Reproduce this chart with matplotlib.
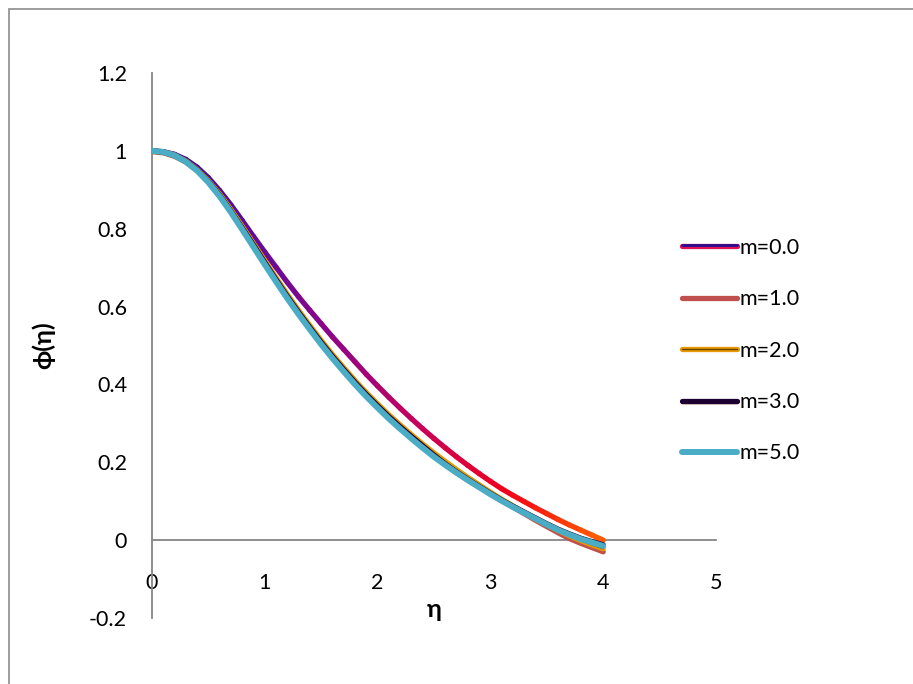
import numpy as np
import matplotlib
matplotlib.use("Agg")
import matplotlib.pyplot as plt
from matplotlib.collections import LineCollection
from matplotlib.colors import LinearSegmentedColormap
from matplotlib.lines import Line2D
from matplotlib.patches import Rectangle
import matplotlib.patheffects as pe

plt.rcParams['font.family'] = ['Lato', 'DejaVu Sans']

eta = [0.0, 0.1, 0.2, 0.3, 0.4, 0.5, 0.6, 0.7, 0.8, 0.9, 1.0,
       1.1, 1.2, 1.3, 1.4, 1.5, 1.6, 1.7, 1.8, 1.9, 2.0,
       2.1, 2.2, 2.3, 2.4, 2.5, 2.6, 2.7, 2.8, 2.9, 3.0,
       3.1, 3.2, 3.3, 3.4, 3.5, 3.6, 3.7, 3.8, 3.9, 4.0]
phi_m0 = [1.000, 0.998, 0.991, 0.978, 0.958, 0.931, 0.898, 0.861, 0.821, 0.780, 0.740,
          0.701, 0.662, 0.625, 0.590, 0.556, 0.522, 0.490, 0.458, 0.426, 0.396,
          0.367, 0.339, 0.312, 0.286, 0.261, 0.237, 0.214, 0.192, 0.171, 0.151,
          0.132, 0.115, 0.099, 0.083, 0.068, 0.053, 0.039, 0.026, 0.013, 0.000]
phi_m1 = [1.000, 0.997, 0.989, 0.974, 0.952, 0.923, 0.888, 0.848, 0.805, 0.761, 0.716,
          0.672, 0.629, 0.588, 0.549, 0.511, 0.475, 0.441, 0.408, 0.377, 0.348,
          0.320, 0.294, 0.269, 0.245, 0.222, 0.201, 0.180, 0.160, 0.141, 0.122,
          0.103, 0.085, 0.068, 0.051, 0.035, 0.019, 0.004, -0.008, -0.019, -0.030]
phi_m2 = [1.000, 0.997, 0.989, 0.974, 0.952, 0.923, 0.889, 0.849, 0.806, 0.762, 0.718,
          0.674, 0.631, 0.590, 0.551, 0.513, 0.477, 0.443, 0.410, 0.379, 0.350,
          0.322, 0.296, 0.271, 0.247, 0.224, 0.202, 0.181, 0.161, 0.142, 0.123,
          0.105, 0.088, 0.071, 0.055, 0.040, 0.025, 0.011, -0.001, -0.012, -0.022]
phi_m3 = [1.000, 0.997, 0.988, 0.973, 0.951, 0.921, 0.886, 0.845, 0.802, 0.758, 0.713,
          0.669, 0.626, 0.585, 0.546, 0.508, 0.472, 0.438, 0.405, 0.374, 0.345,
          0.317, 0.291, 0.266, 0.242, 0.218, 0.195, 0.175, 0.156, 0.138, 0.120,
          0.103, 0.087, 0.072, 0.057, 0.042, 0.028, 0.016, 0.005, -0.004, -0.012]
phi_m5 = [1.000, 0.997, 0.988, 0.972, 0.949, 0.919, 0.883, 0.842, 0.798, 0.753, 0.708,
          0.664, 0.621, 0.580, 0.541, 0.503, 0.467, 0.433, 0.400, 0.369, 0.340,
          0.312, 0.286, 0.261, 0.237, 0.214, 0.193, 0.173, 0.154, 0.136, 0.118,
          0.101, 0.085, 0.070, 0.055, 0.040, 0.026, 0.014, 0.003, -0.006, -0.015]
labels = ["m=0.0", "m=1.0", "m=2.0", "m=3.0", "m=5.0"]
xticks = [0, 1, 2, 3, 4, 5]
yticks = [-0.2, 0, 0.2, 0.4, 0.6, 0.8, 1.0, 1.2]
ytick_labels = ["-0.2", "0", "0.2", "0.4", "0.6", "0.8", "1", "1.2"]

fig = plt.figure(figsize=(9.13, 6.84), dpi=100)
ax = fig.add_axes([152/913, 1-618/684, 564/913, 545/684])
ax.set_xlim(0, 5)
ax.set_ylim(-0.2, 1.2)

gray = '#868686'
for s in ['top', 'right']:
    ax.spines[s].set_visible(False)
for s in ['left', 'bottom']:
    ax.spines[s].set_color(gray)
    ax.spines[s].set_linewidth(1.3)
    ax.spines[s].set_position(('data', 0))

ax.set_xticks(xticks)
ax.set_xticklabels([str(t) for t in xticks])
ax.set_yticks(yticks)
ax.set_yticklabels(ytick_labels)
ax.tick_params(axis='x', length=0, pad=24, labelsize=15.5)
ax.tick_params(axis='y', length=0, pad=18, labelsize=15.5)

lw = 3.8
x = np.array(eta)
# m=0 gradient line
grad = LinearSegmentedColormap.from_list('g0', ['#2B0C8F', '#5E0C9C', '#8E0487', '#C8005A', '#F2001A', '#FF5A00'])
pts = np.column_stack([x, np.array(phi_m0)]).reshape(-1, 1, 2)
segs = np.concatenate([pts[:-1], pts[1:]], axis=1)
lc = LineCollection(segs, cmap=grad, linewidths=lw, capstyle='round', joinstyle='round', zorder=3)
lc.set_array(x[:-1] / 4.0)
ax.add_collection(lc)

ax.plot(eta, phi_m1, color='#C0504D', lw=lw, solid_capstyle='round', zorder=4)
ax.plot(eta, phi_m2, color='#E59A00', lw=lw, solid_capstyle='round', zorder=5,
        path_effects=[pe.Normal(), pe.Stroke(linewidth=1.0, foreground='#6B4300')])
ax.plot(eta, phi_m3, color='#1A0033', lw=lw, solid_capstyle='round', zorder=6,
        path_effects=[pe.Stroke(offset=(0, -1.2), linewidth=2.5, foreground='#D04A10'), pe.Normal()])
ax.plot(eta, phi_m5, color='#4BACC6', lw=4.3, solid_capstyle='round', zorder=7)

# legend proxies
h0 = Line2D([], [], color='#E0105A', lw=lw, solid_capstyle='round',
            path_effects=[pe.Normal(), pe.Stroke(offset=(0, 1.0), linewidth=2.0, foreground='#2B0C8F')])
h1 = Line2D([], [], color='#C0504D', lw=lw, solid_capstyle='round')
h2 = Line2D([], [], color='#E59A00', lw=lw, solid_capstyle='round',
            path_effects=[pe.Normal(), pe.Stroke(linewidth=1.0, foreground='#6B4300')])
h3 = Line2D([], [], color='#1A0033', lw=lw, solid_capstyle='round',
            path_effects=[pe.Stroke(offset=(0, -1.2), linewidth=2.5, foreground='#D04A10'), pe.Normal()])
h5 = Line2D([], [], color='#4BACC6', lw=4.3, solid_capstyle='round')
leg = fig.legend([h0, h1, h2, h3, h5], labels, loc='upper left',
                 bbox_to_anchor=(671/913, 1-227/684), frameon=False, fontsize=15.5,
                 handlelength=2.55, handletextpad=0.15, labelspacing=1.46, borderpad=0)

ax.set_ylabel('ϕ(η)', fontsize=18, fontweight='bold')
ax.yaxis.set_label_coords(-0.193, 0.5)
ax.yaxis.label.set_va('center')
ax.set_xlabel('η', fontsize=18, fontweight='bold')
ax.xaxis.set_label_coords(0.5, 0.015)
ax.xaxis.label.set_va('center')

fig.add_artist(Rectangle((8.5/913, -0.1), 1.2, (684-9.5)/684 + 0.1, transform=fig.transFigure,
                         fill=False, edgecolor='#8c8c8c', lw=1.2, clip_on=False))

fig.savefig('out.png', dpi=100)
